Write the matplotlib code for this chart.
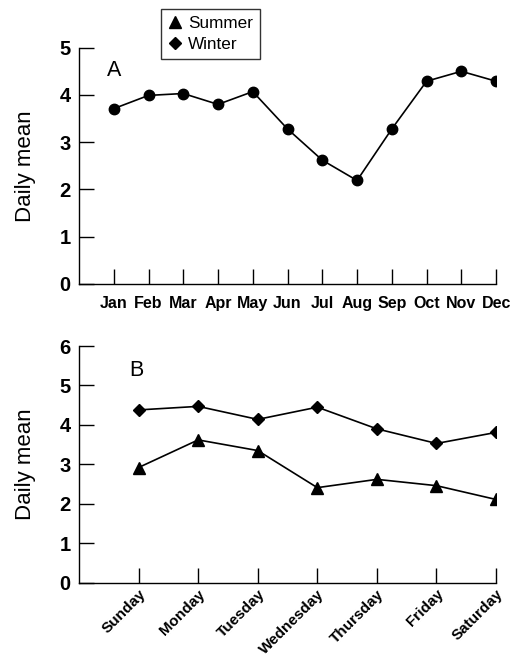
import matplotlib
matplotlib.use("Agg")
import matplotlib.pyplot as plt
from matplotlib.lines import Line2D

plt.rcParams['font.family'] = ['Liberation Sans', 'DejaVu Sans']

months = ["Jan", "Feb", "Mar", "Apr", "May", "Jun", "Jul", "Aug", "Sep", "Oct", "Nov", "Dec"]
monthly_mean = [3.71, 3.99, 4.03, 3.80, 4.07, 3.28, 2.62, 2.19, 3.28, 4.29, 4.50, 4.29]

days = ["Sunday", "Monday", "Tuesday", "Wednesday", "Thursday", "Friday", "Saturday"]
summer = [2.92, 3.62, 3.35, 2.41, 2.62, 2.46, 2.11]
winter = [4.38, 4.47, 4.14, 4.45, 3.90, 3.53, 3.81]

fig = plt.figure(figsize=(5.13, 6.64), dpi=100)
axA = fig.add_axes([0.154, 0.5723, 0.813, 0.3559])
axB = fig.add_axes([0.154, 0.1224, 0.813, 0.3565])

lw = 1.2
for ax in (axA, axB):
    ax.spines['top'].set_visible(False)
    ax.spines['right'].set_visible(False)
    ax.spines['left'].set_linewidth(1.0)
    ax.spines['bottom'].set_linewidth(1.0)
    ax.tick_params(direction='in', length=10.5, width=1.0)
    ax.tick_params(axis='y', pad=6)
    ax.set_ylabel("Daily mean", fontsize=16, labelpad=17)

# Panel A
xa = list(range(1, len(months) + 1))
axA.plot(xa, monthly_mean, color='black', lw=lw, marker='o', markersize=7.5)
axA.set_xlim(0, 12)
axA.set_ylim(0, 5)
axA.set_yticks(range(0, 6))
axA.set_yticklabels([str(v) for v in range(0, 6)], fontweight='bold', fontsize=14.5)
axA.set_xticks(xa)
axA.set_xticklabels(months, fontweight='bold', fontsize=11.5)
axA.tick_params(axis='x', pad=9)
axA.text(1, 4.52, "A", fontsize=15.5, ha='center', va='center')

# Panel B
xb = list(range(1, len(days) + 1))
axB.plot(xb, winter, color='black', lw=lw, marker='D', markersize=6.5)
axB.plot(xb, summer, color='black', lw=lw, marker='^', markersize=8)
axB.set_xlim(0, 7)
axB.set_ylim(0, 6)
axB.set_yticks(range(0, 7))
axB.set_yticklabels([str(v) for v in range(0, 7)], fontweight='bold', fontsize=14.5)
axB.set_xticks(xb)
axB.set_xticklabels(days, fontweight='bold', fontsize=11, rotation=45,
                    ha='right', va='top', rotation_mode='anchor')
axB.tick_params(axis='x', pad=3)
axB.text(0.97, 5.38, "B", fontsize=15.5, ha='center', va='center')

handles = [Line2D([], [], color='black', marker='^', linestyle='None', markersize=8),
           Line2D([], [], color='black', marker='D', linestyle='None', markersize=6.5)]
leg = fig.legend(handles, ["Summer", "Winter"], loc='upper left',
                 bbox_to_anchor=(0.314, 0.986), frameon=True, fancybox=False,
                 edgecolor='black', fontsize=12.3, handlelength=0.8,
                 handletextpad=0.4, borderpad=0.4, labelspacing=0.35,
                 borderaxespad=0)
leg.get_frame().set_linewidth(1.0)

fig.savefig("out.png", dpi=100)
